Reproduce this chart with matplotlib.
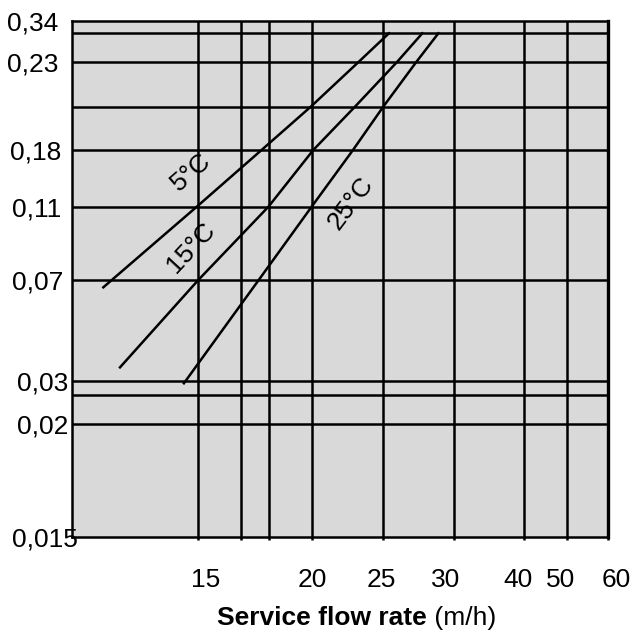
import numpy as np
import matplotlib.pyplot as plt
from matplotlib.ticker import FixedLocator, NullLocator
from matplotlib.transforms import blended_transform_factory, ScaledTranslation

plt.rcParams['font.family'] = ['Liberation Sans', 'DejaVu Sans']

# the chart axes are neither linear nor log -> piecewise scale
x_scale_vals = [10, 15, 17, 18, 20, 25, 30, 40, 50, 60]
x_scale_pos = [0, 126.3, 168.7, 197.3, 240.3, 310.7, 381.7, 452.3, 495.3, 536.3]
y_scale_vals = [0.015, 0.02, 0.025, 0.03, 0.07, 0.11, 0.18, 0.20, 0.23, 0.30, 0.34]
y_scale_pos = [0, 112.7, 141.4, 155.7, 256.7, 330, 386.7, 430, 474.4, 503.4, 516]

# grid / ticks
x_grid = [15, 17, 18, 20, 25, 30, 40, 50, 60]
x_ticklabels = ['15', '', '', '20', '25', '30', '40', '50', '60']
y_grid = [0.02, 0.025, 0.03, 0.07, 0.11, 0.18, 0.20, 0.23, 0.30]
y_label_vals = [0.34, 0.23, 0.18, 0.11, 0.07, 0.03, 0.02, 0.015]
y_label_txt = ['0,34', '0,23', '0,18', '0,11', '0,07', '0,03', '0,02', '0,015']

# curves
flow_5 = [11.24, 14.94, 17.73, 19.93, 23.15, 25.44]
val_5 = [0.0671, 0.11, 0.18, 0.20, 0.229, 0.30]
flow_15 = [11.90, 15.0, 17.97, 20.07, 23.03, 25.99, 27.79]
val_15 = [0.0354, 0.07, 0.11, 0.18, 0.20, 0.23, 0.30]
flow_25 = [14.43, 17.63, 19.97, 22.89, 25.04, 27.35, 28.92]
val_25 = [0.0292, 0.07, 0.11, 0.18, 0.20, 0.23, 0.30]

curve_names = ['5°C', '15°C', '25°C']
name_x = [14.7, 14.7, 22.75]
name_y = [0.1528, 0.0875, 0.1145]
name_rot = [41, 47, 53]

W = 632
fs = 19
fig = plt.figure(figsize=(6.32, 6.32), dpi=100)
ax = fig.add_axes([72/W, 95.3/W, 536.3/W, 516/W])
ax.set_facecolor('#d9d9d9')

def fx(v):
    return np.interp(v, x_scale_vals, x_scale_pos)
def ix(p):
    return np.interp(p, x_scale_pos, x_scale_vals)
def fy(v):
    return np.interp(v, y_scale_vals, y_scale_pos)
def iy(p):
    return np.interp(p, y_scale_pos, y_scale_vals)

ax.set_xscale('function', functions=(fx, ix))
ax.set_yscale('function', functions=(fy, iy))
ax.set_xlim(10, 60)
ax.set_ylim(0.015, 0.34)

lw = 1.8
for xv in x_grid:
    ax.axvline(xv, color='black', lw=lw)
for yv in y_grid:
    ax.axhline(yv, color='black', lw=lw)

ax.plot(flow_5, val_5, color='black', lw=lw)
ax.plot(flow_15, val_15, color='black', lw=lw)
ax.plot(flow_25, val_25, color='black', lw=lw)

for n, xx, yy, r in zip(curve_names, name_x, name_y, name_rot):
    ax.text(xx, yy, n, rotation=r, ha='center', va='center', fontsize=fs,
            rotation_mode='anchor')

for s in ax.spines.values():
    s.set_linewidth(1.8)
    s.set_color('black')
ax.spines['right'].set_linewidth(2.4)

ax.xaxis.set_major_locator(FixedLocator(x_grid))
ax.xaxis.set_minor_locator(NullLocator())
ax.set_xticklabels([''] * len(x_grid))
ax.tick_params(axis='x', direction='out', length=2.5, width=1.8, color='black')
ax.yaxis.set_major_locator(FixedLocator(y_grid))
ax.yaxis.set_minor_locator(NullLocator())
ax.set_yticklabels([])
ax.tick_params(axis='y', length=0)

# x tick labels, nudged like in the original
x_shift = [7, 0, 0, 0, -1, -8, -6, -7, 8]
tr_x = blended_transform_factory(ax.transData, fig.transFigure)
for xv, lab, sh in zip(x_grid, x_ticklabels, x_shift):
    if lab:
        ax.text(xv, 44.7/W, lab, ha='center', va='baseline', fontsize=fs,
                transform=tr_x + ScaledTranslation(sh/100, 0, fig.dpi_scale_trans))

# y labels, left aligned at varying x
y_left = [7, 7, 10, 12, 12, 17, 17, 12]
tr_y = blended_transform_factory(fig.transFigure, ax.transData) + \
    ScaledTranslation(0, -2.5/100, fig.dpi_scale_trans)
for yv, lab, xl in zip(y_label_vals, y_label_txt, y_left):
    ax.text(xl/W, yv, lab, ha='left', va='center', fontsize=fs,
            transform=tr_y, clip_on=False)

fig.text(427/W, 7/W, 'Service flow rate', fontsize=fs, fontweight='bold',
         ha='right', va='baseline')
fig.text(427/W, 7/W, ' (m/h)', fontsize=fs, ha='left', va='baseline')

fig.savefig('out.png', dpi=100, facecolor='white')
